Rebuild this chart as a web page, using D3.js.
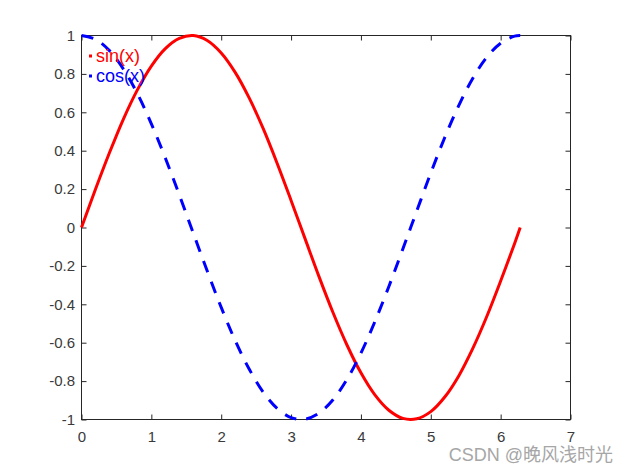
<!DOCTYPE html>
<html>
<head>
<meta charset="utf-8">
<script src="https://cdn.jsdelivr.net/npm/d3@7"></script>
<style>
html,body{margin:0;padding:0;background:#fff;}
svg{display:block;}
</style>
</head>
<body>
<svg id="chart" width="630" height="473"></svg>
<script>
const xValues = [0,0.2,0.4,0.6,0.8,1.0,1.2,1.4,1.6,1.8,2.0,2.2,2.4,2.6,2.8,3.0,3.2,3.4,3.6,3.8,4.0,4.2,4.4,4.6,4.8,5.0,5.2,5.4,5.6,5.8,6.0,6.2,6.28];
const sinValues = [0,0.199,0.389,0.565,0.717,0.841,0.932,0.985,1.0,0.974,0.909,0.808,0.675,0.516,0.335,0.141,-0.058,-0.256,-0.443,-0.612,-0.757,-0.872,-0.952,-0.994,-0.996,-0.959,-0.883,-0.773,-0.631,-0.465,-0.279,-0.083,0.0];
const cosValues = [1.0,0.980,0.921,0.825,0.697,0.540,0.362,0.170,-0.029,-0.227,-0.416,-0.589,-0.737,-0.857,-0.942,-0.990,-0.998,-0.967,-0.897,-0.791,-0.654,-0.490,-0.307,-0.112,0.087,0.284,0.469,0.635,0.776,0.886,0.960,0.997,1.0];
const xTicks = [0,1,2,3,4,5,6,7];
const yTicks = [-1,-0.8,-0.6,-0.4,-0.2,0,0.2,0.4,0.6,0.8,1];
const seriesNames = ["sin(x)","cos(x)"];
const watermark = "CSDN @晚风浅时光";

(function(){
const svg = d3.select("#chart");
const L = 81.5, R = 570.5, T = 35.5, B = 419.5;
const x = d3.scaleLinear().domain([0,7]).range([L,R]);
const y = d3.scaleLinear().domain([-1,1]).range([B,T]);
const axisColor = "#262626";
const labelColor = "#3a3a3a";
const font = "'Liberation Sans', Arial, sans-serif";

svg.append("rect").attr("x",L).attr("y",T).attr("width",R-L).attr("height",B-T)
  .attr("fill","none").attr("stroke",axisColor).attr("stroke-width",1);

const tl = 5;
const gBottom = svg.append("g").attr("transform",`translate(0,${B})`)
  .call(d3.axisBottom(x).tickValues(xTicks).tickSizeInner(-tl).tickSizeOuter(0).tickPadding(12).tickFormat(d3.format("d")));
const gTop = svg.append("g").attr("transform",`translate(0,${T})`)
  .call(d3.axisTop(x).tickValues(xTicks).tickSizeInner(-tl).tickSizeOuter(0).tickFormat(""));
const gLeft = svg.append("g").attr("transform",`translate(${L},0)`)
  .call(d3.axisLeft(y).tickValues(yTicks).tickSizeInner(-tl).tickSizeOuter(0).tickPadding(6.5).tickFormat(d => String(d)));
const gRight = svg.append("g").attr("transform",`translate(${R},0)`)
  .call(d3.axisRight(y).tickValues(yTicks).tickSizeInner(-tl).tickSizeOuter(0).tickFormat(""));
[gBottom,gTop,gLeft,gRight].forEach(g => {
  g.select(".domain").remove();
  g.selectAll("line").attr("stroke",axisColor);
  g.selectAll("text").attr("fill",labelColor).style("font-family",font).style("font-size","15px");
});
gBottom.selectAll("text").attr("dy","0.71em");

const data = xValues.map((xv,i)=>({x:xv, s:sinValues[i], c:cosValues[i]}));
const sinLine = d3.line().x(d=>x(d.x)).y(d=>y(d.s)).curve(d3.curveCatmullRom.alpha(0.5));
const cosLine = d3.line().x(d=>x(d.x)).y(d=>y(d.c)).curve(d3.curveCatmullRom.alpha(0.5));

svg.append("path").datum(data).attr("d",sinLine).attr("fill","none")
  .attr("stroke","#ff0000").attr("stroke-width",3);
svg.append("path").datum(data).attr("d",cosLine).attr("fill","none")
  .attr("stroke","#0000ff").attr("stroke-width",3).attr("stroke-dasharray","12,10");

const leg = svg.append("g");
const colors = ["#ff0000","#0000ff"];
seriesNames.forEach((n,i)=>{
  const cy = 56 + i*20;
  leg.append("rect").attr("x",89).attr("y",cy-1.5).attr("width",3).attr("height",3).attr("fill",colors[i]);
  leg.append("text").attr("x",96).attr("y",cy).attr("dy","0.35em")
    .attr("fill",colors[i]).style("font-family",font).style("font-size","18px").text(n);
});

svg.append("text").attr("x",613).attr("y",461).attr("text-anchor","end")
  .attr("fill","#a6a6a6").style("font-family","'Liberation Sans', 'Noto Sans CJK SC', sans-serif")
  .style("font-size","18px").text(watermark);
})();
</script>
</body>
</html>
